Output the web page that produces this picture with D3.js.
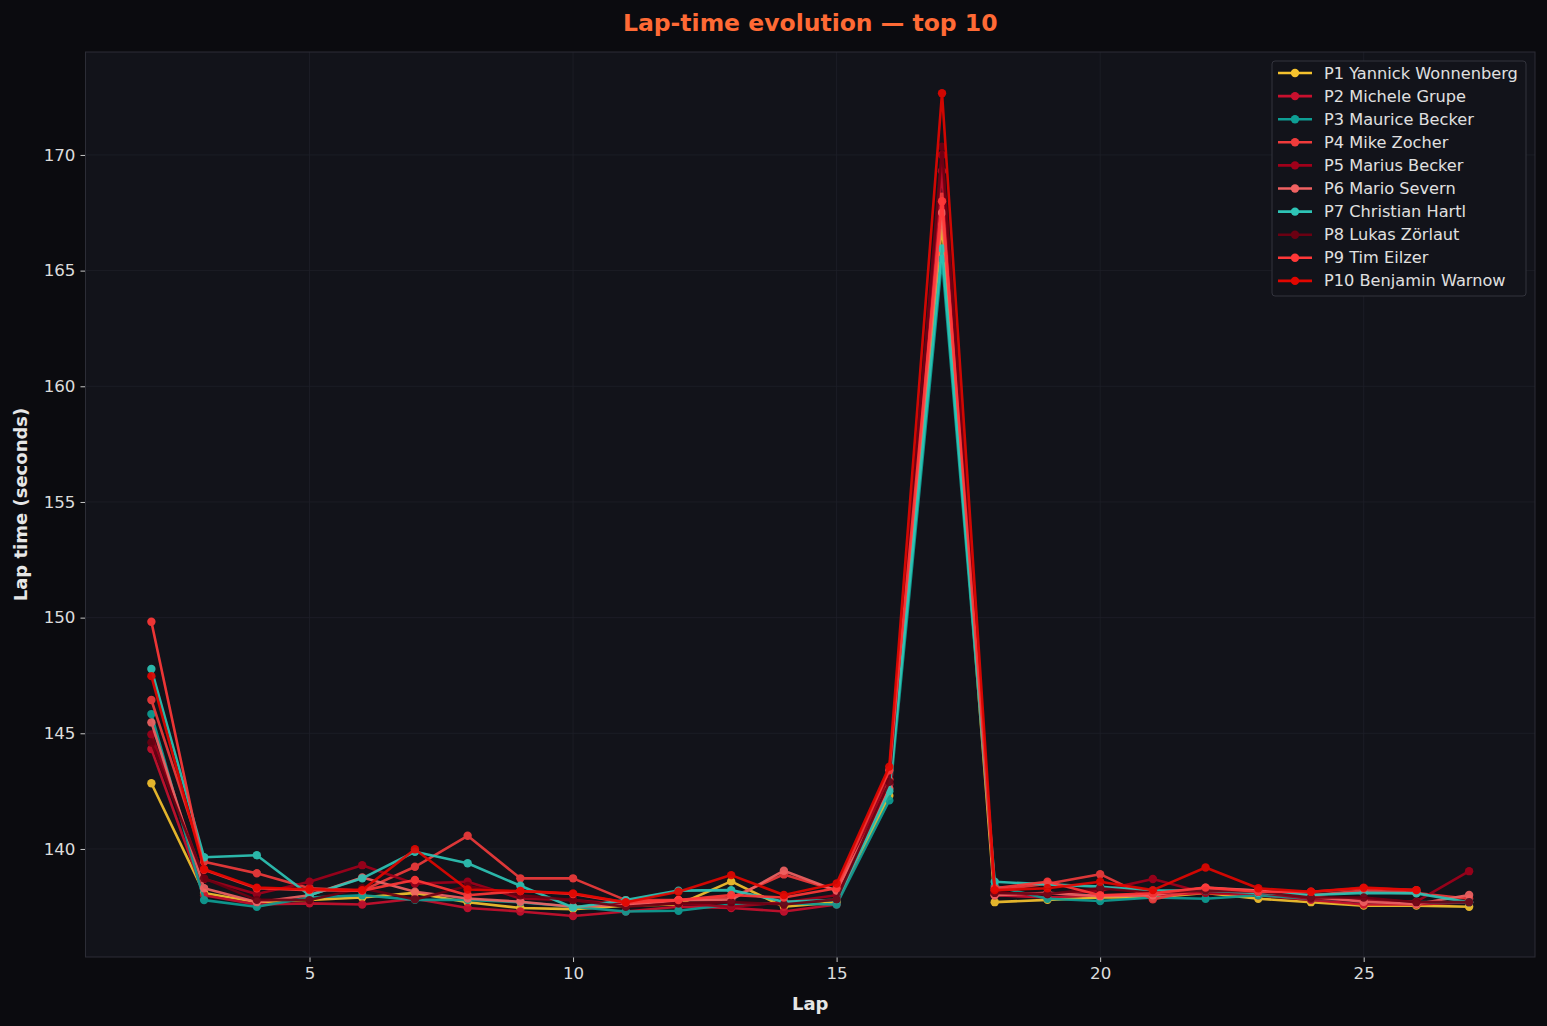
<!DOCTYPE html>
<html><head><meta charset="utf-8">
<script src="https://cdn.jsdelivr.net/npm/d3@7"></script>
<style>
html,body{margin:0;padding:0;background:#0b0b0f;}
svg{display:block;font-family:"DejaVu Sans",sans-serif;}
.tick text{font-size:16.7px;font-family:"DejaVu Sans",sans-serif;}
</style></head>
<body>
<svg id="c" width="1547" height="1026"></svg>
<script>
const laps = d3.range(2, 28);
const drivers = ["P1 Yannick Wonnenberg","P2 Michele Grupe","P3 Maurice Becker","P4 Mike Zocher","P5 Marius Becker","P6 Mario Severn","P7 Christian Hartl","P8 Lukas Zörlaut","P9 Tim Eilzer","P10 Benjamin Warnow"];
const colors = ["#f5c22e","#c8102e","#0e9e94","#ef3b3b","#a0001a","#f06262","#2ec4b6","#6b0012","#ff3838","#e10600"];
const p1 = [142.84,138.1,137.7,137.8,137.9,138.1,137.7,137.45,137.4,137.55,137.6,138.6,137.5,137.7,142.3,167.0,137.7,137.8,137.9,137.9,138.1,137.85,137.7,137.55,137.55,137.5];
const p2 = [144.32,138.0,137.6,137.65,137.6,137.85,137.45,137.3,137.1,137.3,137.5,137.45,137.3,137.6,142.8,169.3,138.0,137.9,138.0,138.0,138.1,138.0,137.8,137.6,137.6,137.7];
const p3 = [145.83,137.79,137.5,137.9,138.0,137.8,137.8,137.7,137.5,137.3,137.33,137.6,137.65,137.6,142.1,165.5,138.4,137.85,137.75,137.9,137.85,138.0,137.85,137.8,137.7,137.7];
const p4 = [146.44,139.45,138.95,138.3,138.2,139.23,140.57,138.73,138.73,137.79,137.79,137.9,138.9,138.2,143.0,168.2,138.2,138.5,138.91,137.82,138.3,138.2,138.0,138.2,138.1,137.85];
const p5 = [144.95,138.7,138.05,138.58,139.3,138.5,138.58,137.86,137.79,137.6,137.65,137.5,137.7,138.0,143.2,170.0,138.1,138.05,138.2,138.7,138.1,138.1,137.85,137.8,137.72,139.04];
const p6 = [145.47,138.3,137.7,138.0,138.77,138.15,137.86,137.72,137.5,137.58,137.79,137.8,139.06,138.2,142.6,167.5,138.0,138.1,137.96,138.0,138.33,138.2,137.94,137.72,137.62,138.01];
const p7 = [147.78,139.64,139.73,138.0,138.73,139.88,139.38,138.41,137.47,137.79,138.2,138.22,137.72,137.8,142.5,165.96,138.58,138.47,138.37,138.2,138.2,138.1,138.01,138.1,138.08,137.7];
const p8 = [144.6,138.73,137.8,137.79,138.3,137.82,138.4,138.0,137.79,137.5,137.65,137.7,137.6,137.82,142.9,170.36,138.1,138.05,138.3,138.1,138.2,138.15,137.9,137.9,137.7,137.7];
const p9 = [149.82,139.1,138.3,138.22,138.2,138.66,138.0,138.18,138.05,137.68,137.79,138.01,137.9,138.3,143.4,168.0,138.3,138.58,138.0,138.08,138.33,138.15,138.15,138.3,138.22];
const p10 = [147.47,139.12,138.33,138.26,138.22,139.99,138.25,138.18,138.08,137.7,138.15,138.87,138.01,138.51,143.56,172.67,138.22,138.3,138.58,138.22,139.2,138.3,138.15,138.33,138.22];
const series = [p1,p2,p3,p4,p5,p6,p7,p8,p9,p10];
const xTicks = [5,10,15,20,25];
const yTicks = [140,145,150,155,160,165,170];

const svg = d3.select("#c");
const L = 85.5, R = 1535, T = 52, B = 957;
const x = d3.scaleLinear().domain([0.75, 28.25]).range([L, R]);
const y = d3.scaleLinear().domain([135.33, 174.45]).range([B, T]);

svg.append("rect").attr("width",1547).attr("height",1026).attr("fill","#0b0b0f");
svg.append("rect").attr("x",L).attr("y",T).attr("width",R-L).attr("height",B-T).attr("fill","#12131a");

// grid
const g = svg.append("g");
g.selectAll(".gx").data(xTicks).join("line").attr("x1",d=>x(d)).attr("x2",d=>x(d)).attr("y1",T).attr("y2",B).attr("stroke","#1e1f28").attr("stroke-width",0.8);
g.selectAll(".gy").data(yTicks).join("line").attr("x1",L).attr("x2",R).attr("y1",d=>y(d)).attr("y2",d=>y(d)).attr("stroke","#1e1f28").attr("stroke-width",0.8);

// axes
const xAxis = svg.append("g").attr("transform",`translate(0,${B})`).call(d3.axisBottom(x).tickValues(xTicks).tickSize(5).tickPadding(5));
const yAxis = svg.append("g").attr("transform",`translate(${L},0)`).call(d3.axisLeft(y).tickValues(yTicks).tickSize(5).tickPadding(5));
[xAxis,yAxis].forEach(a=>{
  a.select(".domain").remove();
  a.attr("font-size",null).attr("font-family",null);
  a.selectAll(".tick line").attr("stroke","#c8c8c8");
  a.selectAll(".tick text").attr("fill","#dcdcdc");
});
// frame
svg.append("rect").attr("x",L).attr("y",T).attr("width",R-L).attr("height",B-T).attr("fill","none").attr("stroke","#2c2d36").attr("stroke-width",1);

// lines
const line = d3.line().x((d,i)=>x(laps[i])).y(d=>y(d));
series.forEach((s,k)=>{
  const gs = svg.append("g").attr("opacity",0.92);
  gs.append("path").datum(s).attr("d",line).attr("fill","none").attr("stroke",colors[k]).attr("stroke-width",2.6).attr("stroke-linejoin","round");
  gs.selectAll("circle").data(s).join("circle").attr("cx",(d,i)=>x(laps[i])).attr("cy",d=>y(d)).attr("r",4.2).attr("fill",colors[k]);
});

// title & labels
svg.append("text").attr("x",(L+R)/2).attr("y",31).attr("text-anchor","middle").attr("fill","#ff6a35").attr("font-size",23.5).attr("font-weight","bold").text("Lap-time evolution — top 10");
svg.append("text").attr("x",(L+R)/2).attr("y",1010).attr("text-anchor","middle").attr("fill","#e6e6e6").attr("font-size",18).attr("font-weight","bold").text("Lap");
svg.append("text").attr("transform",`translate(27,${(T+B)/2}) rotate(-90)`).attr("text-anchor","middle").attr("fill","#e6e6e6").attr("font-size",18).attr("font-weight","bold").text("Lap time (seconds)");

// legend
const lg = svg.append("g");
lg.append("rect").attr("x",1272).attr("y",61).attr("width",254).attr("height",235).attr("rx",3).attr("fill","#12131a").attr("stroke","#33343d").attr("stroke-width",1);
drivers.forEach((n,k)=>{
  const yy = 73 + k*23.1;
  lg.append("line").attr("x1",1278).attr("x2",1312).attr("y1",yy).attr("y2",yy).attr("stroke",colors[k]).attr("stroke-width",2.6);
  lg.append("circle").attr("cx",1295).attr("cy",yy).attr("r",4.2).attr("fill",colors[k]);
  lg.append("text").attr("x",1324).attr("y",yy+5.5).attr("fill","#e0e0e0").attr("font-size",16.2).text(n);
});
</script>
</body></html>
